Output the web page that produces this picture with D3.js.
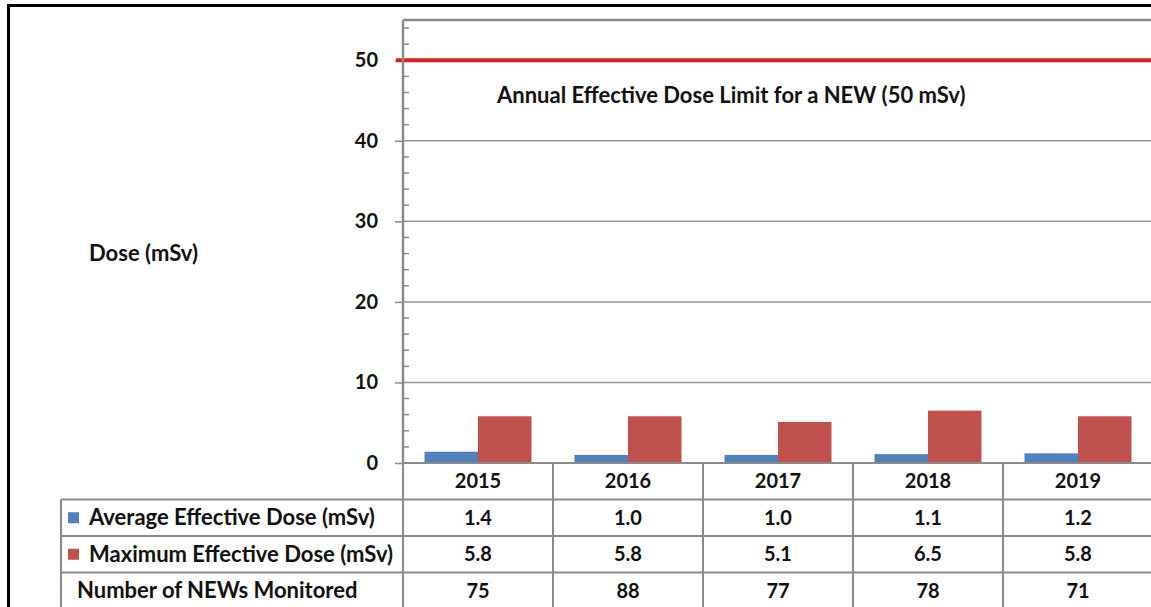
<!DOCTYPE html>
<html>
<head>
<meta charset="utf-8">
<script src="https://cdn.jsdelivr.net/npm/d3@7"></script>
<style>
  html, body { margin: 0; padding: 0; background: #fff; }
  svg { display: block; }
  text { font-family: Lato, "Open Sans", sans-serif; font-weight: 700; fill: #111; }
</style>
</head>
<body>
<svg id="chart" width="1151" height="607"></svg>
<script>
// Occupational dose data for NEWs, 2015–2019
const years = ["2015", "2016", "2017", "2018", "2019"];
const avgDose = [1.4, 1.0, 1.0, 1.1, 1.2];
const maxDose = [5.8, 5.8, 5.1, 6.5, 5.8];
const newsMonitored = [75, 88, 77, 78, 71];
const seriesNames = ["Average Effective Dose (mSv)", "Maximum Effective Dose (mSv)"];
const seriesColors = ["#4f81bd", "#c0504d"];
const rowLabels = ["Average Effective Dose (mSv)", "Maximum Effective Dose (mSv)", "Number of NEWs Monitored"];
const yTicks = [0, 10, 20, 30, 40, 50];
const doseLimit = 50;
const limitLabel = "Annual Effective Dose Limit for a NEW (50 mSv)";
const yTitle = "Dose (mSv)";

const numSize = 20;   // numeric labels
const wordSize = 22;  // word labels
const svg = d3.select("#chart");

// Plot geometry
const plot = { left: 403, right: 1153, top: 20, bottom: 463 };
const tableLeft = 61;
const rowH = 36.5;

const y = d3.scaleLinear().domain([0, 55]).range([plot.bottom, plot.top]);
const x = d3.scaleBand().domain(years).range([plot.left, plot.right])
  .paddingInner(0.287).paddingOuter(0.1435);
const xInner = d3.scaleBand().domain(seriesNames).range([0, x.bandwidth()]);
const colBand = d3.scaleBand().domain(years).range([plot.left, plot.right]);

const grey = "#8a8a8a";

// Outer frame
svg.append("rect").attr("x", 8.5).attr("y", 5.5).attr("width", 1200).attr("height", 700)
  .attr("fill", "none").attr("stroke", "#000").attr("stroke-width", 3);

// Horizontal gridlines
svg.append("g").selectAll("line").data(yTicks.filter(d => d > 0 && d < doseLimit)).join("line")
  .attr("x1", plot.left).attr("x2", 1151)
  .attr("y1", d => y(d)).attr("y2", d => y(d))
  .attr("stroke", "#959595").attr("stroke-width", 1.5);

// Plot top border
svg.append("line").attr("x1", plot.left).attr("x2", 1151)
  .attr("y1", y(55)).attr("y2", y(55)).attr("stroke", grey).attr("stroke-width", 2.5);

// Minor ticks (inside)
const minor = d3.range(0, 56, 2).filter(d => d % 10 !== 0);
svg.append("g").selectAll("line").data(minor).join("line")
  .attr("x1", plot.left).attr("x2", plot.left + 6)
  .attr("y1", d => y(d)).attr("y2", d => y(d))
  .attr("stroke", grey).attr("stroke-width", 1.5);

// Major ticks and labels via d3 axis
const yAxis = d3.axisLeft(y).tickValues(yTicks).tickSize(8).tickPadding(17).tickFormat(d3.format("d"));
const gy = svg.append("g").attr("transform", `translate(${plot.left},0)`).call(yAxis);
gy.select(".domain").remove();
gy.selectAll(".tick line").attr("stroke", grey).attr("stroke-width", 1.5);
gy.selectAll(".tick text").attr("font-size", numSize).attr("font-family", "Lato, sans-serif")
  .attr("font-weight", 700).attr("fill", "#111");

// Bars
const barData = [];
years.forEach((yr, i) => {
  barData.push({ year: yr, s: seriesNames[0], v: avgDose[i], c: seriesColors[0] });
  barData.push({ year: yr, s: seriesNames[1], v: maxDose[i], c: seriesColors[1] });
});
svg.append("g").selectAll("rect").data(barData).join("rect")
  .attr("x", d => x(d.year) + xInner(d.s))
  .attr("width", xInner.bandwidth())
  .attr("y", d => y(d.v))
  .attr("height", d => y(0) - y(d.v))
  .attr("fill", d => d.c);

// Dose limit line
svg.append("line").attr("x1", plot.left - 7).attr("x2", 1151)
  .attr("y1", y(doseLimit)).attr("y2", y(doseLimit))
  .attr("stroke", "#dc1f1f").attr("stroke-width", 4);

svg.append("text").attr("x", 497).attr("y", 95).attr("dy", "0.35em")
  .attr("font-size", wordSize).text(limitLabel);

// Y title
svg.append("text").attr("x", 89).attr("y", 253.5).attr("dy", "0.35em")
  .attr("font-size", wordSize).text(yTitle);

// Data table
const tableTop = plot.bottom;
const rowsY = d3.range(5).map(i => tableTop + i * rowH);
const tg = svg.append("g");
// horizontal rules under header and between rows
rowsY.slice(1).forEach(ry => {
  tg.append("line").attr("x1", tableLeft).attr("x2", 1151).attr("y1", ry).attr("y2", ry)
    .attr("stroke", grey).attr("stroke-width", 2);
});
// column rules
years.forEach(yr => {
  tg.append("line").attr("x1", colBand(yr)).attr("x2", colBand(yr))
    .attr("y1", tableTop).attr("y2", 607)
    .attr("stroke", grey).attr("stroke-width", 2);
});
tg.append("line").attr("x1", tableLeft).attr("x2", tableLeft)
  .attr("y1", rowsY[1]).attr("y2", 607).attr("stroke", grey).attr("stroke-width", 2);

// Y axis line and x baseline
svg.append("line").attr("x1", plot.left).attr("x2", plot.left)
  .attr("y1", y(55)).attr("y2", plot.bottom).attr("stroke", grey).attr("stroke-width", 2.5);
svg.append("line").attr("x1", plot.left).attr("x2", 1151)
  .attr("y1", plot.bottom).attr("y2", plot.bottom).attr("stroke", grey).attr("stroke-width", 2);

// Header: years
tg.selectAll("text.yr").data(years).join("text").attr("class", "yr")
  .attr("x", d => colBand(d) + colBand.bandwidth() / 2)
  .attr("y", rowsY[0] + rowH / 2).attr("dy", "0.35em")
  .attr("text-anchor", "middle").attr("font-size", numSize).text(d => d);

// Body rows
const rowValues = [avgDose.map(d => d.toFixed(1)), maxDose.map(d => d.toFixed(1)), newsMonitored.map(String)];
rowValues.forEach((vals, r) => {
  const cy = rowsY[r + 1] + rowH / 2;
  tg.selectAll(null).data(vals).join("text")
    .attr("x", (d, i) => colBand(years[i]) + colBand.bandwidth() / 2)
    .attr("y", cy).attr("dy", "0.35em")
    .attr("text-anchor", "middle").attr("font-size", numSize).text(d => d);
  if (r < 2) {
    tg.append("rect").attr("x", 68).attr("y", cy - 5.5).attr("width", 11).attr("height", 11)
      .attr("fill", seriesColors[r]);
  }
  tg.append("text").attr("x", r < 2 ? 89 : 77).attr("y", cy).attr("dy", "0.35em")
    .attr("font-size", wordSize).text(rowLabels[r]);
});
</script>
</body>
</html>
